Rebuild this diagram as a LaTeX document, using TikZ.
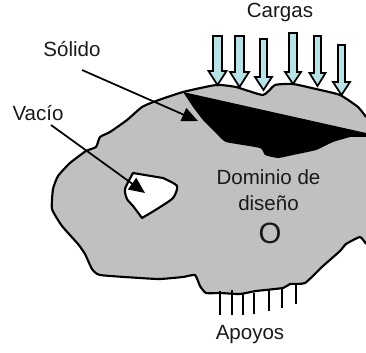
\documentclass[tikz,border=0pt]{standalone}
\usepackage{fontspec}
\setmainfont{Liberation Sans}
\usetikzlibrary{arrows.meta}
\definecolor{dominio}{RGB}{192,192,192}
\definecolor{carga}{RGB}{184,226,230}
\tikzset{rotulo/.style={font=\fontsize{15.4}{17}\selectfont,text=black!90,inner sep=0pt,align=center},
  contorno/.style={line width=1.6pt,line join=round},
  guia/.style={-{Triangle[length=12pt,width=10.5pt]},line width=1.3pt},
  carganode/.style={draw=black,fill=carga,line width=1.3pt,line join=miter},
  apoyo/.style={line width=1.5pt}}
\begin{document}
\begin{tikzpicture}[x=0.75pt,y=-0.75pt]
\useasboundingbox (0,0) rectangle (366,352);
\def\contour{(366,117) (358,107) (340,95) (316,89) (293,84) (275,85) (263,95) (236,87) (216,85) (183,92) (156,101) (142,107) (127,120) (110,132) (100,137) (96,147) (86,151) (70,163) (58,176) (53,189) (52,209) (62,226) (78,244) (85,254) (92,269) (100,275) (140,278) (160,279) (183,277) (195,275) (200,286) (206,293) (220,293) (240,294) (256,291) (283,288) (290,284) (305,283) (323,266) (340,251) (346,244) (360,237) (366,244)}
% gray domain, cut by the right edge of the picture
\fill[dominio] plot[smooth,tension=0.3] coordinates {\contour} -- cycle;
\draw[contorno] plot[smooth,tension=0.3] coordinates {\contour};
% solid part
\fill[black] (183,92) -- (366,133) -- (366,137) -- plot[smooth,tension=0.3] coordinates {(350,137) (333,142) (316,150) (293,155) (278,158) (265,155) (260,148) (226,142) (216,133) (203,120) (193,107)} -- cycle;
% void
\draw[contorno,fill=white] plot[smooth,tension=0.4] coordinates {(133,173) (157,177) (163,178) (177,186) (173,198) (157,209) (142,218)}
  -- plot[smooth,tension=0.4] coordinates {(142,218) (133,206) (127,199) (125,189) (133,173)} -- cycle;
% loads: x, half shaft, half head, top, neck, tip
\foreach \x/\s/\h/\t/\n/\p in {217.5/4.5/9/36/71/85,239.5/4.5/9.5/36/72/87,263.5/3.5/8.5/39/77/90,293/4/8/33/72/84,317.5/3.5/8/36/73/86,341.5/3.5/8.5/45/82/95}{
  \draw[carganode] (\x-\s,\t) -- (\x+\s,\t) -- (\x+\s,\n) -- (\x+\h,\n) -- (\x,\p) -- (\x-\h,\n) -- (\x-\s,\n) -- cycle;
}
% supports
\foreach \x/\a/\b in {220/291/315,232/290/315,243/294/315,254/293/314,269/290/311,282/288/308,296/284/304}{
  \draw[apoyo] (\x,\a) -- (\x,\b);
}
\node[rotulo] (cargas) at (280,12) {Cargas};
\node[rotulo] (solido) at (72,49) {Sólido};
\node[rotulo] (vacio) at (38,113) {Vacío};
\node[rotulo] (dominiotxt) at (268.5,177) {Dominio de};
\node[rotulo] (disenotxt) at (268.5,203) {diseño};
\node[rotulo,font=\fontsize{22}{24}\selectfont] (omega) at (270,233) {O};
\node[rotulo] (apoyos) at (250,335) {Apoyos};
\coordinate (solidoini) at (82,70);
\coordinate (solidofin) at (198,121);
\coordinate (vacioini) at (51,125);
\coordinate (vaciofin) at (145,193);
\draw[guia] (solidoini) -- (solidofin);
\draw[guia] (vacioini) -- (vaciofin);
\end{tikzpicture}
\end{document}
